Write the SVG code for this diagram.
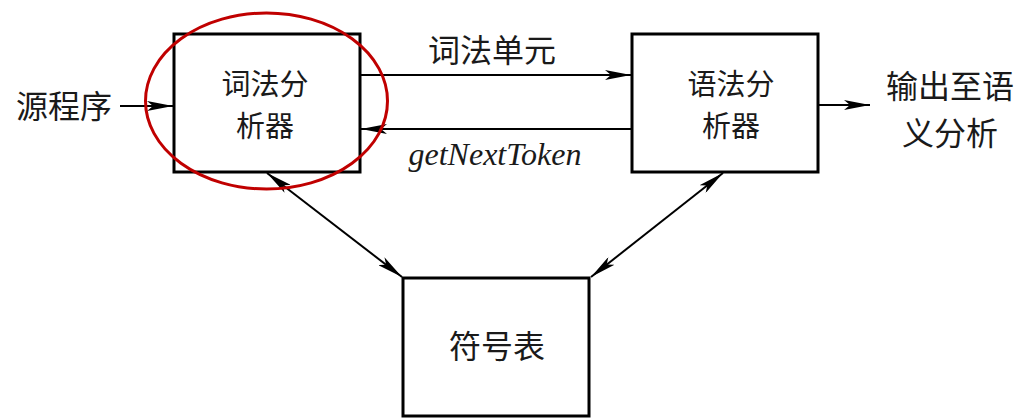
<svg xmlns="http://www.w3.org/2000/svg" width="1018" height="418" viewBox="0 0 1018 418">
<style>
.box{fill:#fff;stroke:#000;stroke-width:3}
.ln{fill:none;stroke:#000;stroke-width:2}
.cj{font-family:"Noto Sans CJK SC","Noto Sans CJK JP",sans-serif;font-size:32px;fill:#1a1a1a;text-anchor:middle}
.bx{font-size:29px}
.it{font-family:"Liberation Serif",serif;font-style:italic;font-size:32px;fill:#1a1a1a;text-anchor:middle}
</style>
<defs>
<marker id="ah" viewBox="0 0 26 10" refX="26" refY="5" markerWidth="26" markerHeight="10" markerUnits="userSpaceOnUse" orient="auto-start-reverse">
<path d="M0,0 L26,5 L0,10 L6,5 z" fill="#000"/>
</marker>
</defs>
<rect width="1018" height="418" fill="#fff"/>
<g id="connectors">
<line class="ln" x1="120" y1="106" x2="173" y2="106" marker-end="url(#ah)"/>
<line class="ln" x1="360" y1="75" x2="631" y2="75" marker-end="url(#ah)"/>
<line class="ln" x1="632" y1="129" x2="361" y2="129" marker-end="url(#ah)"/>
<line class="ln" x1="818" y1="105" x2="870" y2="105" marker-end="url(#ah)"/>
<line class="ln" x1="267" y1="173" x2="402" y2="277" marker-start="url(#ah)" marker-end="url(#ah)"/>
<line class="ln" x1="723" y1="173" x2="591" y2="277" marker-start="url(#ah)" marker-end="url(#ah)"/>
<text class="cj" x="492" y="62">词法单元</text>
<text class="it" x="495" y="165">getNextToken</text>
</g>
<g id="source">
<text class="cj" x="64" y="118">源程序</text>
</g>
<g id="lexer">
<rect class="box" x="174" y="34" width="186" height="138"/>
<text class="cj bx" x="265" y="95">词法分</text>
<text class="cj bx" x="265" y="137">析器</text>
</g>
<g id="parser">
<rect class="box" x="632" y="34" width="186" height="138"/>
<text class="cj bx" x="731" y="95">语法分</text>
<text class="cj bx" x="731" y="137">析器</text>
</g>
<g id="output">
<text class="cj" x="950" y="98">输出至语</text>
<text class="cj" x="950" y="145">义分析</text>
</g>
<g id="symtab">
<rect class="box" x="403" y="278" width="186" height="138"/>
<text class="cj" x="497" y="358">符号表</text>
</g>
<g id="highlight">
<ellipse cx="266.5" cy="101" rx="121" ry="88" fill="none" stroke="#c00000" stroke-width="3"/>
</g>
</svg>
